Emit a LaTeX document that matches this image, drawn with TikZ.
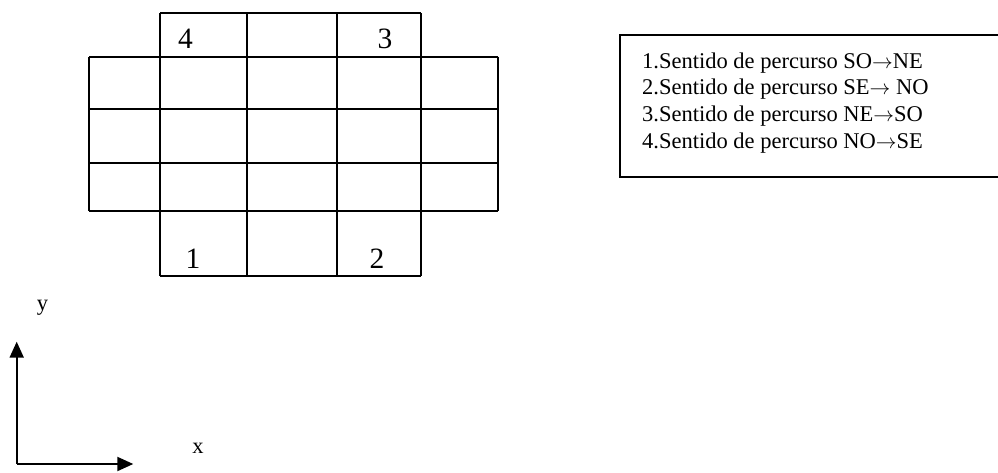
\documentclass[tikz,border=0pt]{standalone}
\usepackage{fontspec}
\setmainfont{Liberation Serif}
\usetikzlibrary{arrows.meta}
\newcommand{\rarr}{\ensuremath{\rightarrow}}
\begin{document}
\begin{tikzpicture}[x=1pt,y=-1pt,
  gridline/.style={line width=2pt},
  digit/.style={anchor=base,inner sep=0pt,font=\fontsize{29.5}{34}\selectfont},
  legendtxt/.style={anchor=base west,inner sep=0pt,font=\fontsize{22.5}{26}\selectfont},
  axislabel/.style={anchor=base,inner sep=0pt,font=\fontsize{22.5}{26}\selectfont},
  axis/.style={line width=2pt,-{Triangle[length=16pt,width=14pt]}}]
\useasboundingbox (0,0) rectangle (998,473);
% grid
\draw[gridline] (160,13.3) -- (421,13.3);
\draw[gridline] (89,56.7) -- (498,56.7);
\draw[gridline] (89,109.3) -- (498,109.3);
\draw[gridline] (89,162.7) -- (498,162.7);
\draw[gridline] (89,211) -- (498,211);
\draw[gridline] (160,276) -- (421,276);
\draw[gridline] (89,56.7) -- (89,211);
\draw[gridline] (498,56.7) -- (498,211);
\foreach \xx in {160,246.7,336.7,421} {
  \draw[gridline] (\xx,13.3) -- (\xx,276);
}
\node[digit] (d4) at (185.5,48.3) {4};
\node[digit] (d3) at (385,48.3) {3};
\node[digit] (d1) at (193,268.3) {1};
\node[digit] (d2) at (377,268.3) {2};
% legend
\draw[line width=2pt] (1000,34.7) -- (620,34.7) -- (620,177.5) -- (1000,177.5);
\node[legendtxt] (l1) at (642,68.3) {1.Sentido de percurso SO\rarr NE};
\node[legendtxt] (l2) at (642,94.3) {2.Sentido de percurso SE\rarr{} NO};
\node[legendtxt] (l3) at (642,121.7) {3.Sentido de percurso NE\rarr SO};
\node[legendtxt] (l4) at (642,148.3) {4.Sentido de percurso NO\rarr SE};
% axes
\coordinate (o) at (16.7,464);
\coordinate (ytip) at (16.7,341.7);
\coordinate (xtip) at (133.3,464);
\draw[axis] (o) -- (ytip);
\draw[axis] (o) -- (xtip);
\node[axislabel] (ylab) at (42.5,310) {y};
\node[axislabel] (xlab) at (198,453) {x};
\end{tikzpicture}
\end{document}
